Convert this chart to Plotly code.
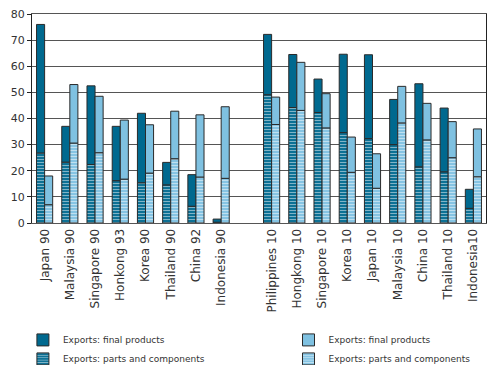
import plotly.graph_objects as go

categories = ["Japan 90", "Malaysia 90", "Singapore 90", "Honkong 93", "Korea 90",
              "Thailand 90", "China 92", "Indonesia 90",
              "Philippines 10", "Hongkong 10", "Singapore 10", "Korea 10", "Japan 10",
              "Malaysia 10", "China 10", "Thailand 10", "Indonesia10"]
gap_label = " "
axis_order = categories[:8] + [gap_label] + categories[8:]

# Dark bars (exports): total height and parts & components portion
exp_total = [76, 37, 52.5, 37, 42, 23.2, 18.5, 1.5,
             72.2, 64.5, 55.1, 64.6, 64.4, 47.3, 53.3, 44, 12.9]
exp_parts = [26.8, 23.3, 22.4, 16.2, 15.4, 14.6, 6.4, 0.3,
             49.1, 44.2, 42.3, 34.6, 32.3, 30, 21.5, 19.6, 5.6]
# Light bars
imp_total = [18, 53, 48.5, 39.4, 37.6, 42.8, 41.4, 44.5,
             48.2, 61.5, 49.5, 32.9, 26.5, 52.3, 45.8, 38.8, 36]
imp_parts = [7, 30.6, 26.9, 16.8, 19.1, 24.6, 17.6, 17.1,
             37.7, 43.1, 36.4, 19.4, 13.3, 38.3, 31.8, 25, 17.7]

exp_final = [t - p for t, p in zip(exp_total, exp_parts)]
imp_final = [t - p for t, p in zip(imp_total, imp_parts)]

DARK = "#00698f"
LIGHT = "#7fc1e1"
EDGE = "#2a2a2a"
W = 0.32
stripe = dict(shape="-", fgcolor="white", size=3, solidity=0.4)

fig = go.Figure()
fig.add_bar(x=categories, y=exp_parts, name="Exports: parts and components",
            marker=dict(color=DARK, line=dict(color=EDGE, width=1), pattern=stripe),
            offset=-W, width=W, legend="legend", legendrank=2)
fig.add_bar(x=categories, y=exp_final, base=exp_parts, name="Exports: final products",
            marker=dict(color=DARK, line=dict(color=EDGE, width=1)),
            offset=-W, width=W, legend="legend", legendrank=1)
fig.add_bar(x=categories, y=imp_parts, name="Exports: parts and components",
            marker=dict(color=LIGHT, line=dict(color=EDGE, width=1), pattern=stripe),
            offset=0, width=W, legend="legend2", legendrank=2)
fig.add_bar(x=categories, y=imp_final, base=imp_parts, name="Exports: final products",
            marker=dict(color=LIGHT, line=dict(color=EDGE, width=1)),
            offset=0, width=W, legend="legend2", legendrank=1)

legend_common = dict(orientation="v", yanchor="top", y=-0.49, xanchor="left",
                     font=dict(family="DejaVu Sans", size=9, color="#333"),
                     bgcolor="rgba(0,0,0,0)", itemwidth=30, tracegroupgap=0,
                     traceorder="normal")

fig.update_layout(
    width=490, height=365,
    margin=dict(l=32, r=4, t=14, b=142, autoexpand=False),
    barmode="overlay",
    paper_bgcolor="white", plot_bgcolor="white",
    font=dict(family="DejaVu Sans", color="#333"),
    showlegend=True,
    legend=dict(x=-0.02, **legend_common),
    legend2=dict(x=0.565, **legend_common),
    xaxis=dict(type="category", categoryorder="array", categoryarray=axis_order,
               range=[-0.5, len(axis_order) - 0.5], automargin=False,
               tickangle=-90, tickfont=dict(size=12, color="#333"),
               showgrid=False, showline=True, linecolor="#555", linewidth=1,
               mirror=True, ticks=""),
    yaxis=dict(range=[0, 80], dtick=10, tickfont=dict(size=11, color="#333"),
               automargin=False,
               showgrid=True, gridcolor="#555", gridwidth=1,
               showline=True, linecolor="#222", linewidth=1, mirror=True,
               ticks="outside", ticklen=4, tickcolor="#222", zeroline=False),
)

fig.write_html("out.html", config={"displayModeBar": False},
               post_script="document.body.style.margin='0';document.body.style.padding='0';")
